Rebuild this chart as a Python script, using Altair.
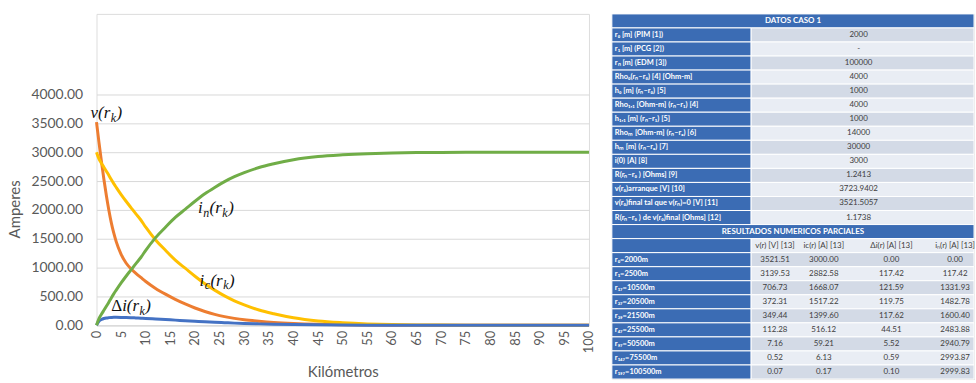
import altair as alt
import pandas as pd

# ---------------- chart data ----------------
km = [0, 0.5, 1, 1.5, 2, 2.5, 3, 3.5, 4, 5, 6, 7, 8, 9, 10, 12, 14, 16, 18, 20,
      22, 24, 26, 28, 30, 33, 36, 40, 45, 50, 55, 60, 65, 70, 75, 80, 85, 90, 95, 100]
v_vals = [3521, 3170, 2840, 2530, 2250, 2000, 1780, 1600, 1450, 1230, 1080, 980, 900, 830, 760,
          640, 540, 450, 370, 300, 240, 190, 150, 120, 95, 70, 50, 32, 18, 10,
          6, 3, 2, 1, 0, 0, 0, 0, 0, 0]
ic_vals = [3000, 2883, 2810, 2740, 2670, 2600, 2525, 2455, 2390, 2265, 2150, 2040, 1930, 1825, 1700,
           1480, 1300, 1130, 990, 850, 720, 610, 510, 425, 355, 265, 200, 130, 75, 45,
           25, 13, 7, 4, 2, 1, 0, 0, 0, 0]
in_vals = [0, 117, 190, 260, 330, 400, 475, 545, 610, 735, 850, 960, 1070, 1175, 1300,
           1520, 1700, 1870, 2010, 2150, 2280, 2390, 2490, 2575, 2645, 2735, 2800, 2870, 2925, 2955,
           2975, 2987, 2993, 2996, 2998, 2999, 3000, 3000, 3000, 3000]
di_vals = [0, 70, 100, 118, 128, 133, 136, 138, 138, 137, 135, 132, 128, 124, 120,
           110, 100, 90, 80, 70, 60, 52, 45, 38, 32, 25, 19, 13, 8, 5,
           3, 2, 1, 1, 0, 0, 0, 0, 0, 0]

series_names = ["v", "ic", "di", "in"]
series_vals = {"v": v_vals, "ic": ic_vals, "di": di_vals, "in": in_vals}
series_colors = {"v": "#ED7D31", "ic": "#FFC000", "di": "#4472C4", "in": "#70AD47"}

y_ticks = [0, 500, 1000, 1500, 2000, 2500, 3000, 3500, 4000]
x_ticks = list(range(0, 101, 5))

# annotation labels: (anchor km, anchor value, parts)
ann_v = (-1.2, 3672, [("v(r", "m"), ("k", "s"), (")", "m")])
ann_in = (20.6, 2040, [("i", "m"), ("n", "s"), ("(r", "m"), ("k", "s"), (")", "m")])
ann_ic = (20.9, 776, [("i", "m"), ("c", "s"), ("(r", "m"), ("k", "s"), (")", "m")])
ann_di = (3.0, 334, [("Δ", "u"), ("i(r", "m"), ("k", "s"), (")", "m")])
annotations = [ann_v, ann_in, ann_ic, ann_di]

# ---------------- table data ----------------
top_title = "DATOS CASO 1"
top_labels = [
    "r₀ [m] (PIM [1])",
    "r₁ [m] (PCG [2])",
    "rₙ [m] (EDM [3])",
    "Rho₀(rₙ–r₀) [4] [Ohm-m]",
    "h₀ [m] (rₙ–r₀) [5]",
    "Rho₁,₁ [Ohm-m] (rₙ–r₁) [4]",
    "h₁,₁ [m] (rₙ–r₁) [5]",
    "Rhoₘ [Ohm-m] (rₙ–rₑ) [6]",
    "hₘ [m] (rₙ–rₑ) [7]",
    "i(0) [A] [8]",
    "R(rₙ–r₀ ) [Ohms] [9]",
    "v(r₀)arranque [V] [10]",
    "v(r₀)final tal que v(rₙ)=0 [V] [11]",
    "R(rₙ–r₀ ) de v(r₀)final [Ohms] [12]",
]
top_values = ["2000", "-", "100000", "4000", "1000", "4000", "1000", "14000",
              "30000", "3000", "1.2413", "3723.9402", "3521.5057", "1.1738"]
res_title = "RESULTADOS NUMERICOS PARCIALES"
res_headers = ["v(r) [V] [13]", "ic(r) [A] [13]", "Δi(r) [A] [13]", "iₙ(r) [A] [13]"]
res_labels = ["r₀=2000m", "r₁=2500m", "r₁₇=10500m", "r₃₇=20500m", "r₃₉=21500m",
              "r₄₇=25500m", "r₉₇=50500m", "r₁₄₇=75500m", "r₁₉₇=100500m"]
res_v = ["3521.51", "3139.53", "706.73", "372.31", "349.44", "112.28", "7.16", "0.52", "0.07"]
res_ic = ["3000.00", "2882.58", "1668.07", "1517.22", "1399.60", "516.12", "59.21", "6.13", "0.17"]
res_di = ["0.00", "117.42", "121.59", "119.75", "117.62", "44.51", "5.52", "0.59", "0.10"]
res_in = ["0.00", "117.42", "1331.93", "1482.78", "1600.40", "2483.88", "2940.79", "2993.87", "2999.83"]

# ---------------- styles / layout ----------------
PLOT_W, PLOT_H = 495, 313
Y_TOP = 4000 * PLOT_H / 232
GREY = "#595959"
FONT = "Lato"
SERIF = "Liberation Serif, Times New Roman, serif"
BLUE = "#3B6CB4"
SHADE_DARK = "#D3DAE6"
SHADE_LIGHT = "#E9EDF4"
TEXT_DARK = "#404040"
TABLE_W, TABLE_H = 364, 367
LABEL_W = 140
TOP_VALUE_X = 248
RES_COL_X = [164, 213, 281, 345]

# ---------------- line chart ----------------
rows = []
for s in series_names:
    for k, val in zip(km, series_vals[s]):
        rows.append({"km": k, "val": val, "series": s})
df = pd.DataFrame(rows)

x_enc = alt.X("km:Q", scale=alt.Scale(domain=[0, 100], nice=False, zero=False),
              axis=alt.Axis(values=x_ticks, labelAngle=-90, title="Kilómetros", grid=False,
                            ticks=False, domainColor="#D9D9D9", labelColor=GREY,
                            labelFont=FONT, labelFontSize=13, titleFont=FONT, titleFontSize=15,
                            titleColor=GREY, titleFontWeight="normal", labelPadding=5,
                            titlePadding=12, labelOverlap=False))
y_enc = alt.Y("val:Q", scale=alt.Scale(domain=[0, Y_TOP], nice=False),
              axis=alt.Axis(values=y_ticks, format=".2f", title="Amperes", domain=False,
                            ticks=False, gridColor="#D9D9D9", labelColor=GREY, labelFont=FONT,
                            labelFontSize=14, titleFont=FONT, titleFontSize=15, titleColor=GREY,
                            titleFontWeight="normal", labelPadding=14, titlePadding=8,
                            titleY=196, labelOverlap=False))

layers = []
for s in series_names:
    layers.append(
        alt.Chart(df[df.series == s]).mark_line(strokeWidth=3, interpolate="monotone",
                                                 color=series_colors[s])
        .encode(x=x_enc, y=y_enc)
    )

# annotation text parts (Times-like metrics, per 1000 em)
widths = {"v": 444, "(": 333, "r": 389, "k": 444, ")": 333, "i": 278, "n": 500,
          "c": 444, "Δ": 612}
MAIN_SIZE, SUB_SIZE = 17, 12
for ax, ay, parts in annotations:
    dx = 0.0
    for text, kind in parts:
        size = SUB_SIZE if kind == "s" else MAIN_SIZE
        dy = 5 if kind == "s" else 0
        style = "normal" if kind == "u" else "italic"
        layers.append(
            alt.Chart(pd.DataFrame({"km": [ax], "val": [ay], "t": [text]}))
            .mark_text(align="left", baseline="middle", font=SERIF,
                       fontStyle=style, fontSize=size, dx=dx, dy=dy, color="#111111")
            .encode(x=x_enc, y=y_enc, text="t:N")
        )
        dx += sum(widths.get(ch, 450) for ch in text) * size / 1000.0 + 0.5

line_chart = alt.layer(*layers).properties(width=PLOT_W, height=PLOT_H)

# ---------------- table ----------------
cells = []
texts = []
r = 0
cells.append({"row": r, "x0": 0, "x1": TABLE_W, "fill": BLUE})
texts.append({"row": r, "x": TABLE_W / 2, "t": top_title, "kind": "head"})
for i, (lab, val) in enumerate(zip(top_labels, top_values)):
    r = i + 1
    cells.append({"row": r, "x0": 0, "x1": LABEL_W, "fill": BLUE})
    cells.append({"row": r, "x0": LABEL_W, "x1": TABLE_W,
                  "fill": SHADE_DARK if r % 2 == 1 else SHADE_LIGHT})
    texts.append({"row": r, "x": 3, "t": lab, "kind": "label"})
    texts.append({"row": r, "x": TOP_VALUE_X, "t": val, "kind": "value"})
r = len(top_labels) + 1
cells.append({"row": r, "x0": 0, "x1": TABLE_W, "fill": BLUE})
texts.append({"row": r, "x": TABLE_W / 2, "t": res_title, "kind": "head"})
r += 1
cells.append({"row": r, "x0": 0, "x1": LABEL_W, "fill": BLUE})
cells.append({"row": r, "x0": LABEL_W, "x1": TABLE_W,
              "fill": SHADE_DARK if r % 2 == 1 else SHADE_LIGHT})
for cx, h in zip(RES_COL_X, res_headers):
    texts.append({"row": r, "x": cx, "t": h, "kind": "value"})
for i, lab in enumerate(res_labels):
    r += 1
    cells.append({"row": r, "x0": 0, "x1": LABEL_W, "fill": BLUE})
    cells.append({"row": r, "x0": LABEL_W, "x1": TABLE_W,
                  "fill": SHADE_DARK if r % 2 == 1 else SHADE_LIGHT})
    texts.append({"row": r, "x": 3, "t": lab, "kind": "label"})
    for cx, col in zip(RES_COL_X, [res_v, res_ic, res_di, res_in]):
        texts.append({"row": r, "x": cx, "t": col[i], "kind": "value"})
n_rows = r + 1

cdf = pd.DataFrame(cells)
cdf["row2"] = cdf["row"] + 1
tdf = pd.DataFrame(texts)
tdf["yc"] = tdf["row"] + 0.5

tx = alt.Scale(domain=[0, TABLE_W], nice=False, zero=False)
ty = alt.Scale(domain=[0, n_rows], nice=False, reverse=True)

rects = alt.Chart(cdf).mark_rect(stroke="white", strokeWidth=1).encode(
    x=alt.X("x0:Q", scale=tx, axis=None), x2="x1:Q",
    y=alt.Y("row:Q", scale=ty, axis=None), y2="row2:Q",
    fill=alt.Fill("fill:N", scale=None),
)
t_label = alt.Chart(tdf[tdf.kind == "label"]).mark_text(
    align="left", baseline="middle", font=FONT, fontSize=7.5, fontWeight="bold", color="white"
).encode(x=alt.X("x:Q", scale=tx, axis=None), y=alt.Y("yc:Q", scale=ty, axis=None), text="t:N")
t_head = alt.Chart(tdf[tdf.kind == "head"]).mark_text(
    align="center", baseline="middle", font=FONT, fontSize=8, fontWeight="bold", color="white"
).encode(x=alt.X("x:Q", scale=tx, axis=None), y=alt.Y("yc:Q", scale=ty, axis=None), text="t:N")
t_value = alt.Chart(tdf[tdf.kind == "value"]).mark_text(
    align="center", baseline="middle", font=FONT, fontSize=8, color=TEXT_DARK
).encode(x=alt.X("x:Q", scale=tx, axis=None), y=alt.Y("yc:Q", scale=ty, axis=None), text="t:N")

table = alt.layer(rects, t_label, t_head, t_value).properties(width=TABLE_W, height=TABLE_H)

chart = alt.hconcat(line_chart, table, spacing=14).properties(
    padding={"left": 7, "top": 12, "right": 0, "bottom": 0}
).configure_view(stroke=None).configure(background="white")

chart.save("out.html", embed_options={"renderer": "svg", "actions": False})
